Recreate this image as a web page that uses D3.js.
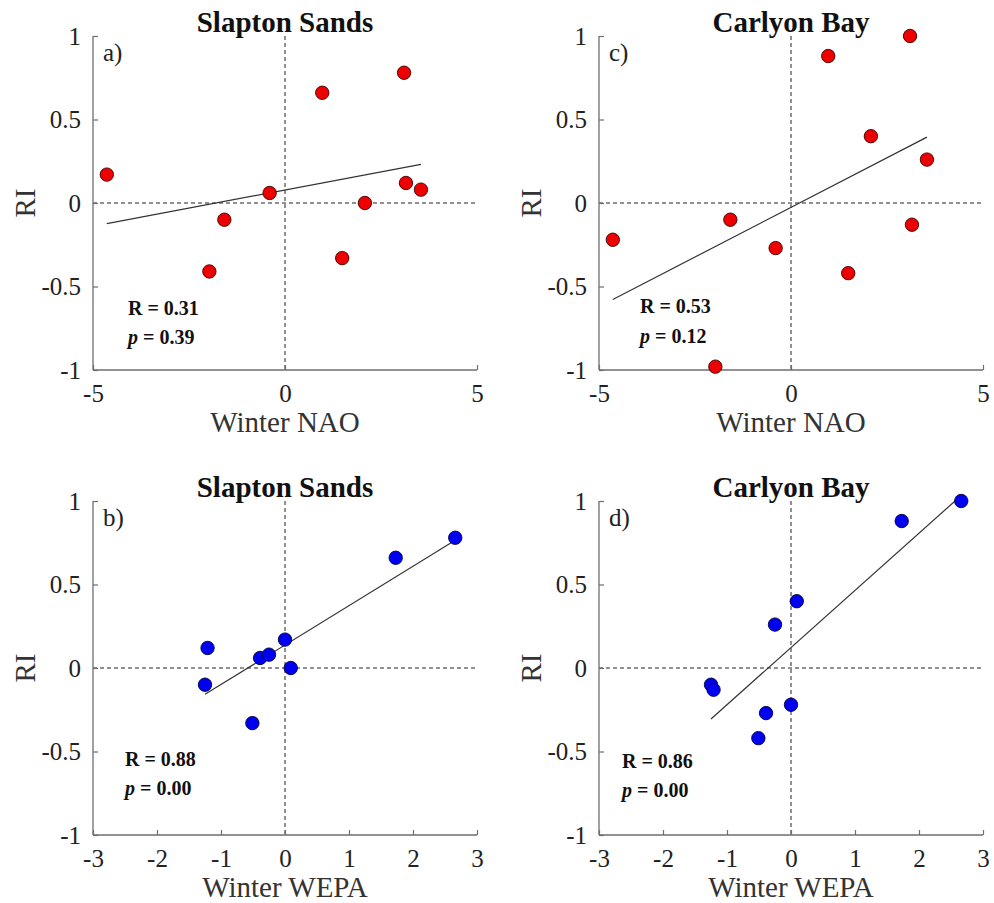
<!DOCTYPE html>
<html>
<head>
<meta charset="utf-8">
<script src="https://cdn.jsdelivr.net/npm/d3@7"></script>
<style>
  html, body { margin: 0; padding: 0; background: #fff; }
  svg { display: block; }
</style>
</head>
<body>
<svg id="chart" width="994" height="903"></svg>
<script>
// ---- data ----
const naoWinter = [-4.64, -1.97, -1.58, -0.40, 0.97, 1.49, 2.08, 3.10, 3.15, 3.54];
const wepaWinter = [0.00, null, -1.25, -0.39, 1.73, -0.51, 0.09, 2.66, -1.21, -0.25];
const riSlapton = [0.17, -0.41, -0.10, 0.06, 0.66, -0.33, 0.00, 0.78, 0.12, 0.08];
const riCarlyon = [-0.22, -0.98, -0.10, -0.27, 0.88, -0.42, 0.40, 1.00, -0.13, 0.26];

const siteNames = ["Slapton Sands", "Carlyon Bay"];
const panelLetters = ["a)", "b)", "c)", "d)"];
const rValues = ["0.31", "0.88", "0.53", "0.86"];
const pValues = ["0.39", "0.00", "0.12", "0.00"];
const naoTicks = [-5, 0, 5];
const wepaTicks = [-3, -2, -1, 0, 1, 2, 3];
const riTicks = [-1, -0.5, 0, 0.5, 1];
const riTickLabels = ["-1", "-0.5", "0", "0.5", "1"];

// ---- layout ----
const svg = d3.select("#chart");
const FONT = "'Liberation Serif', 'Times New Roman', serif";

const panels = [
  { letter: panelLetters[0], site: siteNames[0], x: naoWinter, y: riSlapton, xDom: [-5, 5], xTicks: naoTicks, xLabel: "Winter NAO", color: "#ee0000", stroke: "#3a0000", left: 93, top: 36, statY: [315, 344], statX: 128 },
  { letter: panelLetters[1], site: siteNames[0], x: wepaWinter, y: riSlapton, xDom: [-3, 3], xTicks: wepaTicks, xLabel: "Winter WEPA", color: "#0000f0", stroke: "#00003a", left: 93, top: 501, statY: [766, 795], statX: 125 },
  { letter: panelLetters[2], site: siteNames[1], x: naoWinter, y: riCarlyon, xDom: [-5, 5], xTicks: naoTicks, xLabel: "Winter NAO", color: "#ee0000", stroke: "#3a0000", left: 599, top: 36, statY: [313, 343], statX: 640 },
  { letter: panelLetters[3], site: siteNames[1], x: wepaWinter, y: riCarlyon, xDom: [-3, 3], xTicks: wepaTicks, xLabel: "Winter WEPA", color: "#0000f0", stroke: "#00003a", left: 599, top: 501, statY: [768, 797], statX: 622 }
];
panels.forEach((p, i) => { p.r = rValues[i]; p.p = pValues[i]; });

const W = 384, H = 334;
const axisColor = "#6e6e6e";

panels.forEach(p => {
  const g = svg.append("g").attr("transform", `translate(${p.left},${p.top})`);
  const x = d3.scaleLinear().domain(p.xDom).range([0, W]);
  const y = d3.scaleLinear().domain([-1, 1]).range([H, 0]);

  // dashed zero lines
  g.append("line").attr("x1", x(0)).attr("x2", x(0)).attr("y1", 0).attr("y2", H)
    .attr("stroke", "#222").attr("stroke-width", 1).attr("stroke-dasharray", "4,3");
  g.append("line").attr("x1", 0).attr("x2", W).attr("y1", y(0)).attr("y2", y(0))
    .attr("stroke", "#222").attr("stroke-width", 1).attr("stroke-dasharray", "4,3");

  // axes
  const xAxis = d3.axisBottom(x).tickValues(p.xTicks).tickSize(-5).tickPadding(14)
    .tickFormat(d => String(d));
  const xg = g.append("g").attr("transform", `translate(0,${H})`).call(xAxis);
  const yAxis = d3.axisLeft(y).tickValues(riTicks).tickSize(-5).tickPadding(12)
    .tickFormat((d, i) => riTickLabels[i]);
  const yg = g.append("g").call(yAxis);
  [xg, yg].forEach(a => {
    a.select(".domain").attr("stroke", axisColor).attr("stroke-width", 1.3);
    a.selectAll(".tick line").attr("stroke", axisColor).attr("stroke-width", 1.2);
    a.selectAll(".tick text").attr("fill", "#222").style("font-family", FONT).style("font-size", "25px");
  });
  xg.select(".domain").attr("d", `M0,0H${W}`);
  yg.select(".domain").attr("d", `M0,${H}V0`);

  // regression line (least squares over available points)
  const pts = p.x.map((xv, i) => ({ x: xv, y: p.y[i] })).filter(d => d.x !== null);
  const mx = d3.mean(pts, d => d.x), my = d3.mean(pts, d => d.y);
  const sxy = d3.sum(pts, d => (d.x - mx) * (d.y - my));
  const sxx = d3.sum(pts, d => (d.x - mx) * (d.x - mx));
  const slope = sxy / sxx, icpt = my - slope * mx;
  const [xmin, xmax] = d3.extent(pts, d => d.x);
  g.append("line")
    .attr("x1", x(xmin)).attr("y1", y(icpt + slope * xmin))
    .attr("x2", x(xmax)).attr("y2", y(icpt + slope * xmax))
    .attr("stroke", "#333").attr("stroke-width", 1.2);

  // points
  g.selectAll("circle.pt").data(pts).join("circle").attr("class", "pt")
    .attr("cx", d => x(d.x)).attr("cy", d => y(d.y)).attr("r", 6.7)
    .attr("fill", p.color).attr("stroke", p.stroke).attr("stroke-width", 0.9);

  // panel letter
  g.append("text").attr("x", 10).attr("y", 25).text(p.letter)
    .style("font-family", FONT).style("font-size", "25px").attr("fill", "#222");

  // title
  g.append("text").attr("x", W / 2).attr("y", -4).attr("text-anchor", "middle").text(p.site)
    .style("font-family", FONT).style("font-size", "29px").style("font-weight", "bold").attr("fill", "#111");

  // x label
  g.append("text").attr("x", W / 2).attr("y", H + 62).attr("text-anchor", "middle").text(p.xLabel)
    .style("font-family", FONT).style("font-size", "29px").attr("fill", "#333");

  // y label
  g.append("text").attr("transform", `translate(${-58},${H / 2}) rotate(-90)`)
    .attr("text-anchor", "middle").text("RI")
    .style("font-family", FONT).style("font-size", "29px").attr("fill", "#333");

  // stats
  svg.append("text").attr("x", p.statX).attr("y", p.statY[0]).text(`R = ${p.r}`)
    .style("font-family", FONT).style("font-size", "20px").style("font-weight", "bold").attr("fill", "#111");
  const pt = svg.append("text").attr("x", p.statX).attr("y", p.statY[1])
    .style("font-family", FONT).style("font-size", "20px").style("font-weight", "bold").attr("fill", "#111");
  pt.append("tspan").style("font-style", "italic").text("p");
  pt.append("tspan").text(` = ${p.p}`);
});
</script>
</body>
</html>
